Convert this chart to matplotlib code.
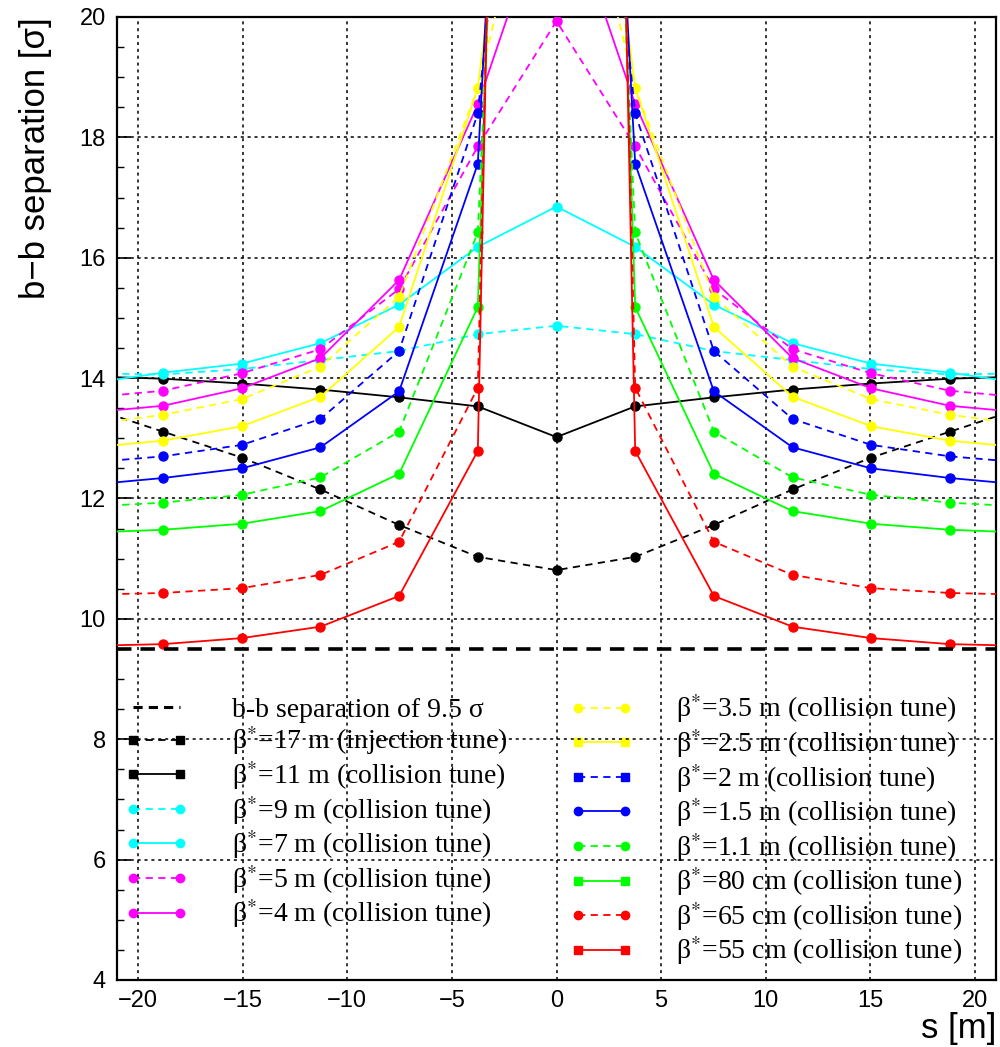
import matplotlib
matplotlib.use("Agg")
import matplotlib.pyplot as plt
from matplotlib.lines import Line2D
from matplotlib.ticker import MultipleLocator

# ---------------- data ----------------
s_pos = [-22.56, -18.8, -15.04, -11.28, -7.52, -3.76, 0.0,
         3.76, 7.52, 11.28, 15.04, 18.8, 22.56]

beta17_inj = [13.54, 13.11, 12.68, 12.15, 11.56, 11.03, 10.81, 11.03, 11.56, 12.15, 12.68, 13.11, 13.54]
beta11 = [14.03, 13.99, 13.91, 13.81, 13.68, 13.53, 13.02, 13.53, 13.68, 13.81, 13.91, 13.99, 14.03]
beta9 = [14.08, 14.06, 14.15, 14.30, 14.45, 14.73, 14.87, 14.73, 14.45, 14.30, 14.15, 14.06, 14.08]
beta7 = [13.90, 14.09, 14.24, 14.58, 15.22, 16.18, 16.85, 16.18, 15.22, 14.58, 14.24, 14.09, 13.90]
beta5 = [13.67, 13.79, 14.08, 14.48, 15.48, 17.85, 19.93, 17.85, 15.48, 14.48, 14.08, 13.79, 13.67]
beta4 = [13.42, 13.54, 13.83, 14.33, 15.63, 18.55, 22.4, 18.55, 15.63, 14.33, 13.83, 13.54, 13.42]
beta3p5 = [13.22, 13.39, 13.65, 14.19, 15.35, 18.82, 24.2, 18.82, 15.35, 14.19, 13.65, 13.39, 13.22]
beta2p5 = [12.84, 12.96, 13.20, 13.69, 14.85, 18.82, 29.2, 18.82, 14.85, 13.69, 13.20, 12.96, 12.84]
beta2 = [12.59, 12.70, 12.89, 13.32, 14.45, 18.40, 31.0, 18.40, 14.45, 13.32, 12.89, 12.70, 12.59]
beta1p5 = [12.22, 12.34, 12.50, 12.85, 13.78, 17.56, 42.0, 17.56, 13.78, 12.85, 12.50, 12.34, 12.22]
beta1p1 = [11.86, 11.93, 12.06, 12.35, 13.11, 16.42, 45.0, 16.42, 13.11, 12.35, 12.06, 11.93, 11.86]
beta80 = [11.43, 11.48, 11.58, 11.79, 12.41, 15.18, 56.0, 15.18, 12.41, 11.79, 11.58, 11.48, 11.43]
beta65 = [10.40, 10.43, 10.51, 10.73, 11.28, 13.84, 70.0, 13.84, 11.28, 10.73, 10.51, 10.43, 10.40]
beta55 = [9.55, 9.58, 9.68, 9.87, 10.38, 12.79, 76.0, 12.79, 10.38, 9.87, 9.68, 9.58, 9.55]

bb_limit = 9.5

labels = [
    "\u03b2$^{*}$=17 m (injection tune)",
    "\u03b2$^{*}$=11 m (collision tune)",
    "\u03b2$^{*}$=9 m (collision tune)",
    "\u03b2$^{*}$=7 m (collision tune)",
    "\u03b2$^{*}$=5 m (collision tune)",
    "\u03b2$^{*}$=4 m (collision tune)",
    "\u03b2$^{*}$=3.5 m (collision tune)",
    "\u03b2$^{*}$=2.5 m (collision tune)",
    "\u03b2$^{*}$=2 m (collision tune)",
    "\u03b2$^{*}$=1.5 m (collision tune)",
    "\u03b2$^{*}$=1.1 m (collision tune)",
    "\u03b2$^{*}$=80 cm (collision tune)",
    "\u03b2$^{*}$=65 cm (collision tune)",
    "\u03b2$^{*}$=55 cm (collision tune)",
]
series = [beta17_inj, beta11, beta9, beta7, beta5, beta4, beta3p5, beta2p5,
          beta2, beta1p5, beta1p1, beta80, beta65, beta55]
colors = ["black", "black", "#00ffff", "#00ffff", "#ff00ff", "#ff00ff",
          "#ffff00", "#ffff00", "#0000ff", "#0000ff", "#00ff00", "#00ff00",
          "#ff0000", "#ff0000"]
styles = ["--", "-", "--", "-", "--", "-", "--", "-", "--", "-", "--", "-", "--", "-"]
leg_markers = ["s", "s", "o", "o", "o", "o", "o", "s", "s", "o", "o", "s", "o", "s"]

# ---------------- figure ----------------
plt.rcParams["mathtext.fontset"] = "stix"
fig = plt.figure(figsize=(10.0, 10.47), dpi=100)
ax = fig.add_axes([0.117, 0.064, 0.879, 0.9198])

dash = (0, (4, 3))
for y, c, ls in zip(series, colors, styles):
    ax.plot(s_pos, y, color=c, lw=1.3,
            linestyle=dash if ls == "--" else "-",
            marker="o", ms=6.5, mec=c, mfc=c, clip_on=True, zorder=3)

ax.axhline(bb_limit, color="black", lw=2.6, linestyle=(0, (4, 2.5)), zorder=4)

ax.set_xlim(-21, 21)
ax.set_ylim(4, 20)
ax.xaxis.set_major_locator(MultipleLocator(5))
ax.yaxis.set_major_locator(MultipleLocator(2))
ax.yaxis.set_minor_locator(MultipleLocator(0.5))
ax.grid(True, which="major", color="black", linestyle=(0, (2, 2.5)), lw=1.1, zorder=2)
ax.set_axisbelow(False)

tick_font = ["Liberation Sans Narrow", "Liberation Sans", "DejaVu Sans"]
ax.tick_params(axis="y", which="major", direction="in", length=10, width=1.2,
               labelsize=17, pad=8)
ax.tick_params(axis="y", which="minor", direction="in", length=5, width=1.0)
ax.tick_params(axis="x", which="major", direction="in", length=0,
               labelsize=17, pad=7)
for lab in ax.get_xticklabels() + ax.get_yticklabels():
    lab.set_family(tick_font)
for sp in ax.spines.values():
    sp.set_linewidth(1.6)

ax.set_ylabel("b\u2212b separation [\u03c3]", fontsize=25, family=tick_font,
              loc="top", labelpad=20)
ax.set_xlabel("s [m]", fontsize=25, family=tick_font, loc="right", labelpad=0)

# ---------------- legends ----------------
legend_font = {"family": ["Liberation Serif", "DejaVu Serif"], "size": 20}


def handle(c, ls, m):
    return Line2D([0], [0], color=c, lw=1.3,
                  linestyle=dash if ls == "--" else "-",
                  marker=m, ms=6, mec=c, mfc=c)


left_h = [Line2D([0], [0], color="black", lw=2.2, linestyle=(0, (3, 2)))]
left_l = ["b-b separation of 9.5 \u03c3"]
for i in range(6):
    left_h.append(handle(colors[i], styles[i], leg_markers[i]))
    left_l.append(labels[i])

right_h, right_l = [], []
for i in range(6, 14):
    right_h.append(handle(colors[i], styles[i], leg_markers[i]))
    right_l.append(labels[i])

common = dict(frameon=False, prop=legend_font, numpoints=2, handlelength=2.3,
              handletextpad=1.55, labelspacing=0.06, borderaxespad=0.0,
              loc="upper left")
leg1 = ax.legend(left_h, left_l, bbox_to_anchor=(-0.004, 0.305), **common)
ax.add_artist(leg1)
leg2 = ax.legend(right_h, right_l, bbox_to_anchor=(0.502, 0.31), **common)
for lg in (leg1, leg2):
    lg.set_zorder(1)

fig.savefig("out.png", dpi=100)
